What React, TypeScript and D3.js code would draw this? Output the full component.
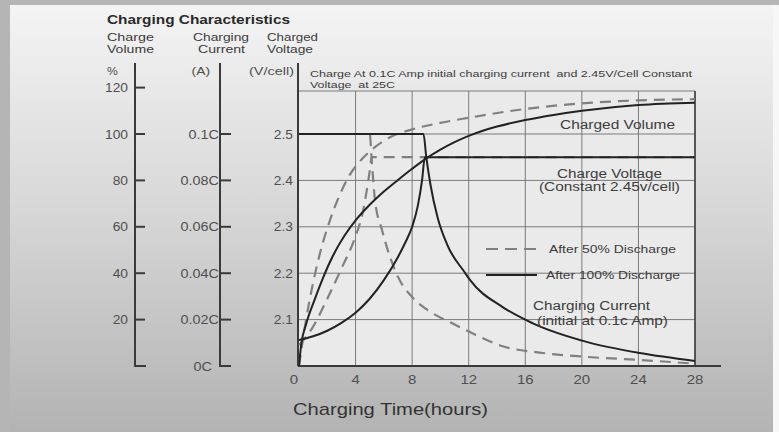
import { useEffect, useRef } from "react";
import * as d3 from "d3";

// x axis (hours) and the three left scales
const hourTicks = [0, 4, 8, 12, 16, 20, 24, 28];
const volumeTicks = [20, 40, 60, 80, 100, 120];
const currentTicks = [0.02, 0.04, 0.06, 0.08, 0.1];
const currentTickLabels = ["0.02C", "0.04C", "0.06C", "0.08C", "0.1C"];
const voltageTicks = [2.1, 2.2, 2.3, 2.4, 2.5];

// charged volume (%) vs hours
const volume100: [number, number][] = [
  [0, 0], [0.15, 9], [0.5, 18], [1.1, 28.5], [1.7, 38], [2.4, 47.5],
  [3.2, 56], [4.1, 63.5], [5, 69.5], [6, 75.2], [7, 80.2], [8, 85], [9, 89.5],
  [10, 93.3], [11, 96.5], [12, 99.2], [13, 101.4], [14, 103.2], [16, 106],
  [18, 108.2], [20, 110], [24, 112.5], [28, 113.5],
];
const volume50: [number, number][] = [
  [0, 0], [0.5, 20], [1, 36], [1.5, 49], [2.2, 63], [2.9, 74], [3.6, 82.5],
  [4.5, 89.5], [5.3, 94], [6.4, 98.5], [8, 102], [10, 104.8], [12, 107],
  [16, 110.8], [20, 113.2], [24, 114.5], [28, 115],
];

// charge voltage (V/cell) vs hours
const voltage100: [number, number][] = [
  [0, 2.056], [1, 2.064], [2, 2.076], [3, 2.093], [4, 2.115], [5, 2.145],
  [6, 2.185], [7, 2.235], [7.5, 2.265], [8, 2.3], [8.4, 2.345], [8.7, 2.4],
  [8.9, 2.45], [28, 2.45],
];
const voltage50: [number, number][] = [
  [0, 2.045], [1, 2.085], [2, 2.145], [3, 2.21], [4, 2.28], [4.5, 2.33],
  [4.8, 2.38], [5, 2.42], [5.15, 2.45], [28, 2.45],
];

// charging current (C) vs hours
const current100: [number, number][] = [
  [0, 0.1], [8.8, 0.1], [9, 0.09], [9.3, 0.078], [9.8, 0.064], [10.5, 0.052],
  [11.7, 0.0405], [12.1, 0.037], [14.4, 0.0254], [16.5, 0.0185],
  [20.4, 0.0103], [24.1, 0.0056], [28, 0.0022],
];
const current50: [number, number][] = [
  [0, 0.1], [5, 0.1], [5.15, 0.088], [5.37, 0.0716], [5.87, 0.0586],
  [7, 0.0384], [8, 0.0297], [9.1, 0.0241], [10.8, 0.0185], [12.5, 0.0134],
  [14.4, 0.0085], [17, 0.0058], [20.4, 0.0039], [24.1, 0.0026], [28, 0.001],
];

const FONT = "'Liberation Sans', Arial, Helvetica, sans-serif";

export default function App() {
  const svgRef = useRef<SVGSVGElement | null>(null);

  useEffect(() => {
    if (!svgRef.current) return;
    const width = 779;
    const height = 432;
    const plot = { left: 298, right: 695, top: 91, bottom: 366 };

    const svg = d3.select(svgRef.current);
    svg.selectAll("*").remove();

    const x = d3.scaleLinear().domain([0, 28]).range([299, 695]);
    const yVol = d3.scaleLinear().domain([0, 100]).range([plot.bottom, 134]);
    const yCur = d3.scaleLinear().domain([0, 0.1]).range([plot.bottom, 134]);
    const yVolt = d3.scaleLinear().domain([2.0, 2.5]).range([plot.bottom, 134]);

    // background
    const defs = svg.append("defs");
    const grad = defs
      .append("linearGradient")
      .attr("id", "bg")
      .attr("x1", 0)
      .attr("y1", 0)
      .attr("x2", 0)
      .attr("y2", 1);
    grad.append("stop").attr("offset", "0%").attr("stop-color", "#f4f4f4");
    grad.append("stop").attr("offset", "45%").attr("stop-color", "#d9d9d9");
    grad.append("stop").attr("offset", "100%").attr("stop-color", "#b3b3b3");

    svg.append("rect").attr("width", width).attr("height", height).attr("fill", "#b5b5b5");
    svg.append("rect").attr("x", 773).attr("y", 5).attr("width", 6).attr("height", height).attr("fill", "#f7f7f7");
    svg.append("rect").attr("x", 10).attr("y", 5).attr("width", 763).attr("height", height - 5).attr("fill", "url(#bg)");

    // plot area
    svg
      .append("rect")
      .attr("x", plot.left)
      .attr("y", plot.top)
      .attr("width", plot.right - plot.left)
      .attr("height", plot.bottom - plot.top)
      .attr("fill", "#eaeaea");

    const grid = svg.append("g").attr("stroke", "#7a7a7a").attr("stroke-width", 1);
    grid
      .selectAll("line.v")
      .data(hourTicks.slice(1))
      .join("line")
      .attr("x1", (d) => x(d))
      .attr("x2", (d) => x(d))
      .attr("y1", plot.top)
      .attr("y2", plot.bottom);
    grid
      .selectAll("line.h")
      .data(voltageTicks)
      .join("line")
      .attr("x1", plot.left)
      .attr("x2", plot.right)
      .attr("y1", (d) => yVolt(d))
      .attr("y2", (d) => yVolt(d));
    grid
      .append("line")
      .attr("x1", plot.left)
      .attr("x2", plot.right)
      .attr("y1", plot.top)
      .attr("y2", plot.top);

    // text helper
    const text = (
      str: string,
      tx: number,
      ty: number,
      size: number,
      opts: { anchor?: string; weight?: string; fill?: string; w?: number; sx?: number } = {}
    ) => {
      const t = svg
        .append("text")
        .attr("transform", `translate(${tx},${ty}) scale(${opts.sx ?? 1},1)`)
        .attr("font-family", FONT)
        .attr("font-size", size)
        .attr("font-weight", opts.weight ?? "normal")
        .attr("fill", opts.fill ?? "#3c3c3c")
        .attr("text-anchor", opts.anchor ?? "start")
        .style("white-space", "pre")
        .text(str);
      if (opts.w) t.attr("textLength", opts.w).attr("lengthAdjust", "spacingAndGlyphs");
      return t;
    };

    // left axes
    const axisColor = "#3a3a3a";
    const axes = svg.append("g").attr("stroke", axisColor).attr("stroke-width", 2).attr("fill", "none");
    [135, 220].forEach((ax) => {
      axes.append("path").attr("d", `M${ax},63V${plot.bottom}H${ax + 11}`);
    });
    axes.append("line").attr("x1", plot.left).attr("x2", plot.left).attr("y1", 63).attr("y2", plot.bottom);
    axes.append("line").attr("x1", plot.right).attr("x2", plot.right).attr("y1", plot.top).attr("y2", plot.bottom).attr("stroke-width", 1.5);
    axes.append("line").attr("x1", plot.left).attr("x2", 721).attr("y1", plot.bottom).attr("y2", plot.bottom);

    axes
      .selectAll("line.vt")
      .data(volumeTicks)
      .join("line")
      .attr("x1", 135)
      .attr("x2", 145)
      .attr("y1", (d) => yVol(d))
      .attr("y2", (d) => yVol(d));
    axes
      .selectAll("line.ct")
      .data(currentTicks)
      .join("line")
      .attr("x1", 220)
      .attr("x2", 231)
      .attr("y1", (d) => yCur(d))
      .attr("y2", (d) => yCur(d));

    const tickFill = "#4f4f4f";
    volumeTicks.forEach((t) => text(String(t), 128, yVol(t) + 4.5, 12, { anchor: "end", fill: tickFill, sx: 1.15 }));
    currentTicks.forEach((t, i) =>
      text(currentTickLabels[i], 219, yCur(t) + 4.5, 12, { anchor: "end", fill: tickFill, sx: 1.2 })
    );
    text("0C", 212, plot.bottom + 4.5, 12, { anchor: "end", fill: tickFill, sx: 1.2 });
    voltageTicks.forEach((t) => text(String(t), 293, yVolt(t) + 4.5, 12, { anchor: "end", fill: tickFill, sx: 1.15 }));
    hourTicks.forEach((t) => text(String(t), x(t) - (t === 0 ? 5 : 0), 384, 12.5, { anchor: "middle", fill: tickFill, sx: 1.2 }));

    // headings
    text("Charging Characteristics", 107, 24, 13, { weight: "bold", fill: "#2a2a2a", w: 183 });
    text("Charge", 107, 41, 11, { w: 47 });
    text("Volume", 107, 53, 11, { w: 47 });
    text("Charging", 193, 41, 11, { w: 56 });
    text("Current", 198, 53, 11, { w: 47 });
    text("Charged", 267, 41, 11, { w: 51 });
    text("Voltage", 267, 53, 11, { w: 46 });
    text("%", 107, 75, 11, { fill: tickFill, sx: 1.1 });
    text("(A)", 210, 75, 11.5, { anchor: "end", fill: tickFill, sx: 1.2 });
    text("(V/cell)", 294, 75, 11.5, { anchor: "end", fill: tickFill, w: 45 });

    text("Charge At 0.1C Amp initial charging current  and 2.45V/Cell Constant", 310, 77, 9.5, { w: 382 });
    text("Voltage  at 25C", 310, 88, 9.5, { w: 85 });

    // series
    const line = d3
      .line<[number, number]>()
      .x((d) => x(d[0]))
      .curve(d3.curveMonotoneX);
    const dashed = { stroke: "#808080", width: 2.2, dash: "11,7" };
    const solid = { stroke: "#222222", width: 2, dash: "none" };
    const series: [[number, number][], (v: number) => number, typeof solid][] = [
      [current50, yCur, dashed],
      [voltage50, yVolt, dashed],
      [volume50, yVol, dashed],
      [current100, yCur, solid],
      [voltage100, yVolt, solid],
      [volume100, yVol, solid],
    ];
    series.forEach(([data, y, st]) => {
      svg
        .append("path")
        .datum(data)
        .attr("fill", "none")
        .attr("stroke", st.stroke)
        .attr("stroke-width", st.width)
        .attr("stroke-dasharray", st.dash)
        .attr("d", line.y((d) => y(d[1]))(data));
    });

    // annotations
    text("Charged Volume", 560, 129, 12.5, { w: 115 });
    text("Charge Voltage", 557, 178, 12.5, { w: 105 });
    text("(Constant 2.45v/cell)", 539, 191, 12.5, { w: 141 });
    text("Charging Current", 533, 310, 12, { w: 117 });
    text("(initial at 0.1c Amp)", 537, 325, 12, { w: 131 });

    // legend
    svg.append("line").attr("x1", 486).attr("x2", 537).attr("y1", 249).attr("y2", 249)
      .attr("stroke", dashed.stroke).attr("stroke-width", 2.2).attr("stroke-dasharray", "12,7");
    svg.append("line").attr("x1", 486).attr("x2", 537).attr("y1", 275).attr("y2", 275)
      .attr("stroke", solid.stroke).attr("stroke-width", 2.2);
    text("After 50% Discharge", 549, 253, 11.5, { w: 127 });
    text("After 100% Discharge", 546, 279, 11.5, { w: 134 });

    text("Charging Time(hours)", 293, 415, 17, { fill: "#333333", w: 195 });
  }, []);

  return (
    <div style={{ position: "fixed", left: 0, top: 0, width: 779, height: 432 }}>
      <svg ref={svgRef} width={779} height={432} style={{ display: "block" }}></svg>
    </div>
  );
}
